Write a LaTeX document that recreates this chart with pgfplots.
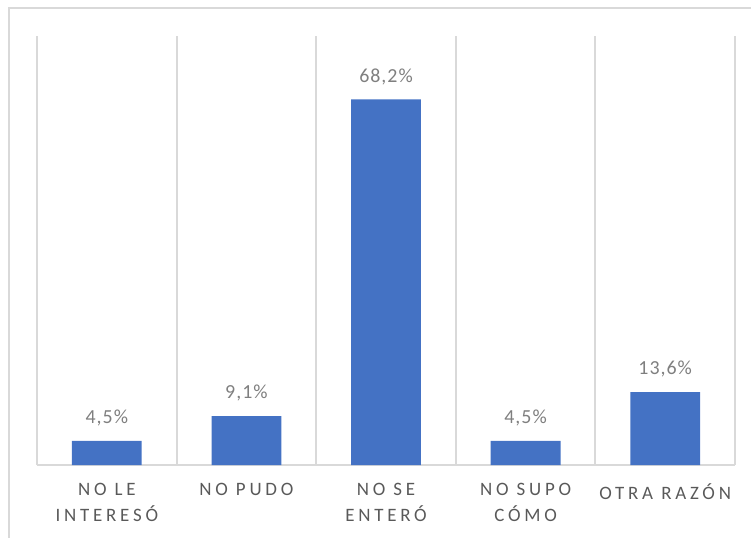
\documentclass[border=0pt]{standalone}
\usepackage{fontspec}
\setmainfont{Carlito}
\newfontfamily\lbl{Carlito}[LetterSpace=20]
\newfontfamily\dlbl{Carlito}[LetterSpace=5]
\usepackage{pgfplots}
\pgfplotsset{compat=1.18}
\definecolor{barblue}{HTML}{4472C4}
\definecolor{gridgray}{HTML}{D9D9D9}
\definecolor{ticktext}{HTML}{595959}
\definecolor{datatext}{HTML}{7F7F7F}
\begin{document}
\begin{tikzpicture}
\path[use as bounding box] (0,0) rectangle (751bp,538bp);
\draw[gridgray, line width=2bp] (9bp,-2bp) -- (9bp,530bp) -- (753bp,530bp);
\begin{axis}[
  at={(37bp,73bp)}, anchor=south west,
  width=698bp, height=429bp, scale only axis,
  xmin=-0.5, xmax=4.5, ymin=0, ymax=80,
  axis x line*=bottom, axis y line=none,
  x axis line style={gridgray, line width=2bp},
  xtick={0,1,2,3,4},
  minor xtick={-0.5,0.5,1.5,2.5,3.5,4.5},
  xminorgrids,
  minor grid style={gridgray, line width=2bp},
  major tick length=0pt, minor tick length=0pt,
  xticklabels={{NO LE\\INTERESÓ},{NO PUDO},{NO SE\\ENTERÓ},{NO SUPO\\CÓMO},{OTRA RAZÓN}},
  xticklabel style={font=\lbl\fontsize{19}{26}\selectfont, text=ticktext, align=center, yshift=-15bp},
  ybar, bar width=0.5,
  /pgf/number format/assume math mode=true,
  nodes near coords={\pgfmathprintnumber[fixed,precision=1,zerofill,use comma,assume math mode=true]{\pgfplotspointmeta}\%},
  every node near coord/.append style={font=\dlbl\fontsize{20}{24}\selectfont, text=datatext, inner sep=0pt, yshift=14.5bp},
]
\addplot[fill=barblue, draw=none] coordinates {(0,4.5) (1,9.1) (2,68.2) (3,4.5) (4,13.6)};
\end{axis}
\end{tikzpicture}
\end{document}
